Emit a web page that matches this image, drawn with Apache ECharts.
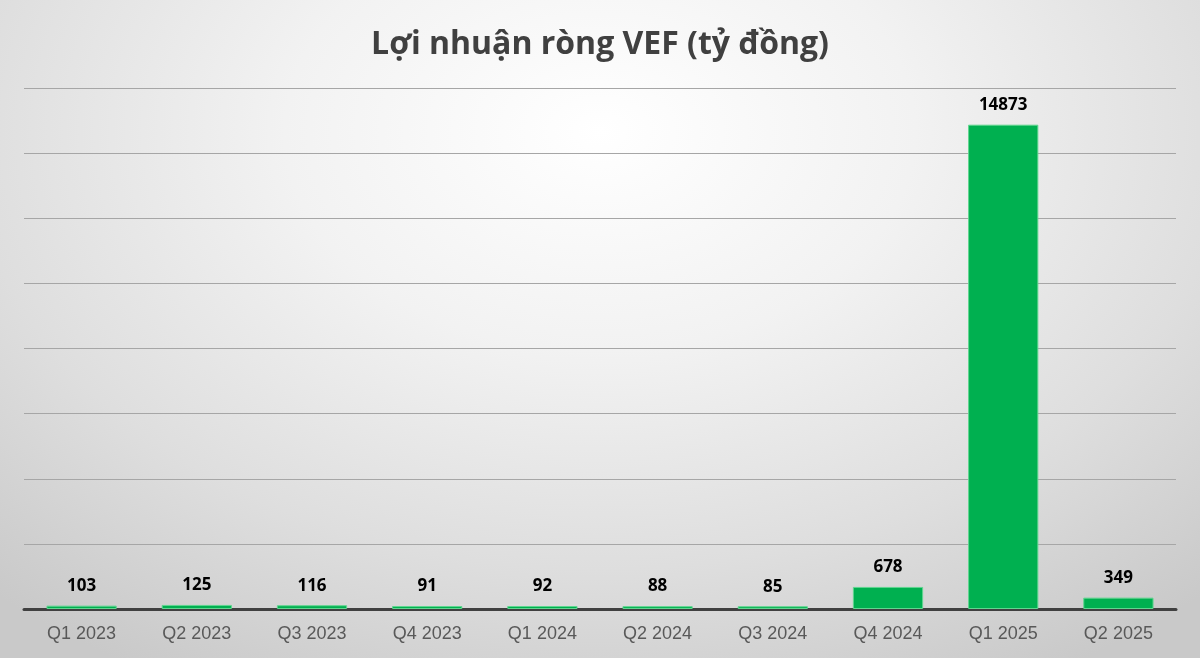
<!DOCTYPE html>
<html><head><meta charset="utf-8">
<script src="https://cdn.jsdelivr.net/npm/echarts@6/dist/echarts.min.js"></script>
<style>html,body{margin:0;padding:0;}
body{background:radial-gradient(ellipse 75% 95% at 50% 20%, #ffffff 0%, #f2f2f2 35%, #dedede 70%, #c9c9c9 100%);}
#c{width:1200px;height:658px;}</style>
</head><body><div id="c"></div>
<script>
const categories = ["Q1 2023","Q2 2023","Q3 2023","Q4 2023","Q1 2024","Q2 2024","Q3 2024","Q4 2024","Q1 2025","Q2 2025"];
const profit = [103,125,116,91,92,88,85,678,14873,349];
const chart = echarts.init(document.getElementById('c'));
chart.setOption({
  backgroundColor: 'transparent',
  title:{text:'Lợi nhuận ròng VEF (tỷ đồng)', left:'center', top:24,
    textStyle:{fontFamily:'Open Sans', fontWeight:'bold', fontSize:32, color:'#404040'}},
  grid:{left:24, right:24, top:88, bottom:49, containLabel:false},
  xAxis:{type:'category', data:categories,
    axisLine:{lineStyle:{color:'#404040', width:3}},
    axisTick:{show:false},
    axisLabel:{fontFamily:'Liberation Sans', fontSize:18, color:'#595959', margin:16}},
  yAxis:{type:'value', min:0, max:16000, interval:2000,
    axisLabel:{show:false}, axisLine:{show:false}, axisTick:{show:false},
    splitLine:{lineStyle:{color:'#a6a6a6', width:1}}},
  series:[{type:'bar', data:profit, barCategoryGap:'39%',
    itemStyle:{color:'#00b050', borderColor:'#5fd68f', borderWidth:1},
    label:{show:true, position:'top', distance:11, fontFamily:'Open Sans', fontWeight:'bold', fontSize:17, color:'#000'}}]
});
</script></body></html>
